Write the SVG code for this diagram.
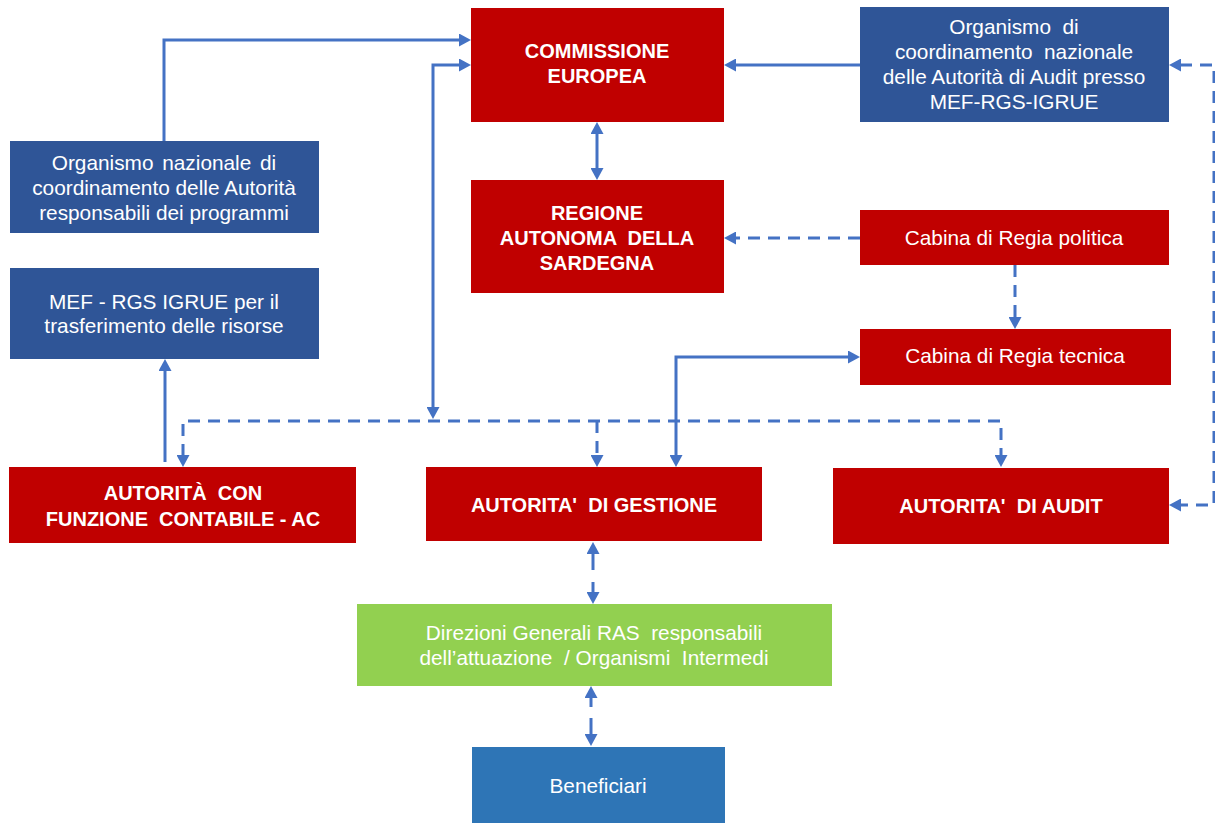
<svg xmlns="http://www.w3.org/2000/svg" width="1215" height="823" viewBox="0 0 1215 823">
<style>
  .red{fill:#C00000}
  .dblue{fill:#2F5597}
  .lblue{fill:#2E75B6}
  .green{fill:#92D050}
  text{font-family:"Liberation Sans",Arial,sans-serif;font-size:20.8px;fill:#fff;text-anchor:middle;white-space:pre}
  .b{font-weight:bold;font-size:20px}
  .c{fill:none;stroke:#4472C4;stroke-width:3}
  .d{stroke-dasharray:12 8}
</style>
<defs>
  <marker id="ah" viewBox="0 0 12 13" refX="1" refY="6.5" markerWidth="12" markerHeight="13" markerUnits="userSpaceOnUse" orient="auto-start-reverse">
    <path d="M0,0 L12,6.5 L0,13 z" fill="#4472C4"/>
  </marker>
</defs>
<rect width="1215" height="823" fill="#fff"/>

<g id="connectors">
  <path class="c" d="M164,141 V40 H460" marker-end="url(#ah)"/>
  <path class="c" d="M460,65 H433 V408" marker-start="url(#ah)" marker-end="url(#ah)"/>
  <path class="c" d="M860,65 H735" marker-end="url(#ah)"/>
  <path class="c" d="M597,133 V169" marker-start="url(#ah)" marker-end="url(#ah)"/>
  <path class="c d" d="M860,238 H735" marker-end="url(#ah)"/>
  <path class="c d" d="M1015,265 V318" marker-end="url(#ah)"/>
  <path class="c d" d="M1180,65 H1214 V505 H1180" marker-start="url(#ah)" marker-end="url(#ah)"/>
  <path class="c d" d="M183,456 V421 H1001 V456" marker-start="url(#ah)" marker-end="url(#ah)"/>
  <path class="c d" d="M597,421 V456" marker-end="url(#ah)"/>
  <path class="c" d="M676,456 V357 H849" marker-start="url(#ah)" marker-end="url(#ah)"/>
  <path class="c" d="M165,462 V370" marker-end="url(#ah)"/>
  <path class="c" d="M593,570 V553" marker-end="url(#ah)"/>
  <path class="c" d="M593,582 V593" marker-end="url(#ah)"/>
  <path class="c" d="M591,707 V697" marker-end="url(#ah)"/>
  <path class="c" d="M591,718 V735" marker-end="url(#ah)"/>
</g>

<g id="commissione">
  <rect class="red" x="471" y="8" width="253" height="114"/>
  <text class="b" x="597" y="58">COMMISSIONE</text>
  <text class="b" x="597" y="83">EUROPEA</text>
</g>
<g id="organismo-audit">
  <rect class="dblue" x="860" y="7" width="309" height="115"/>
  <text x="1014" y="34">Organismo  di</text>
  <text x="1014" y="59">coordinamento  nazionale</text>
  <text x="1014" y="84">delle Autorità di Audit presso</text>
  <text x="1014" y="109">MEF-RGS-IGRUE</text>
</g>
<g id="organismo-adp">
  <rect class="dblue" x="10" y="141" width="309" height="92"/>
  <text x="164" y="170" word-spacing="3">Organismo nazionale di</text>
  <text x="164" y="195">coordinamento delle Autorità</text>
  <text x="164" y="220">responsabili dei programmi</text>
</g>
<g id="regione">
  <rect class="red" x="471" y="180" width="253" height="113"/>
  <text class="b" x="597" y="220">REGIONE</text>
  <text class="b" x="597" y="245">AUTONOMA  DELLA</text>
  <text class="b" x="597" y="270">SARDEGNA</text>
</g>
<g id="cabina-politica">
  <rect class="red" x="860" y="210" width="309" height="55"/>
  <text x="1014" y="245">Cabina di Regia politica</text>
</g>
<g id="mef">
  <rect class="dblue" x="10" y="268" width="309" height="91"/>
  <text x="164" y="309">MEF - RGS IGRUE per il</text>
  <text x="164" y="333">trasferimento delle risorse</text>
</g>
<g id="cabina-tecnica">
  <rect class="red" x="860" y="329" width="311" height="56"/>
  <text x="1015" y="363">Cabina di Regia tecnica</text>
</g>
<g id="ac">
  <rect class="red" x="9" y="467" width="347" height="76"/>
  <text class="b" x="183" y="500">AUTORITÀ  CON</text>
  <text class="b" x="183" y="526">FUNZIONE  CONTABILE - AC</text>
</g>
<g id="adg">
  <rect class="red" x="426" y="467" width="336" height="74"/>
  <text class="b" x="594" y="512">AUTORITA'  DI GESTIONE</text>
</g>
<g id="ada">
  <rect class="red" x="833" y="468" width="336" height="76"/>
  <text class="b" x="1001" y="513">AUTORITA'  DI AUDIT</text>
</g>
<g id="direzioni">
  <rect class="green" x="357" y="604" width="475" height="82"/>
  <text x="594" y="640">Direzioni Generali RAS  responsabili</text>
  <text x="594" y="665">dell’attuazione  / Organismi  Intermedi</text>
</g>
<g id="beneficiari">
  <rect class="lblue" x="472" y="747" width="253" height="76"/>
  <text x="598" y="793">Beneficiari</text>
</g>
</svg>
